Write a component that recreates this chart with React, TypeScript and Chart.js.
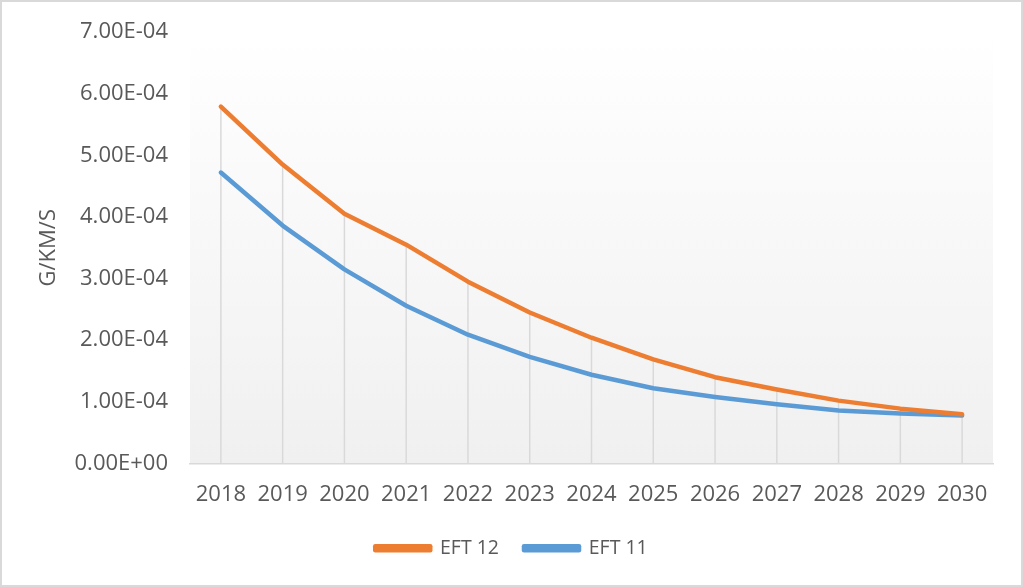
import React, { useEffect, useRef } from "react";
import { Chart, registerables } from "chart.js";

Chart.register(...registerables);

const years = ["2018", "2019", "2020", "2021", "2022", "2023", "2024", "2025", "2026", "2027", "2028", "2029", "2030"];
const eft12 = [5.79e-4, 4.85e-4, 4.05e-4, 3.55e-4, 2.95e-4, 2.45e-4, 2.04e-4, 1.69e-4, 1.40e-4, 1.20e-4, 1.02e-4, 0.89e-4, 0.80e-4];
const eft11 = [4.72e-4, 3.86e-4, 3.15e-4, 2.56e-4, 2.09e-4, 1.73e-4, 1.44e-4, 1.22e-4, 1.08e-4, 0.96e-4, 0.86e-4, 0.81e-4, 0.78e-4];
const yTitle = "G/KM/S";

const FONT = "'Open Sans', sans-serif";
const TEXT = "#595959";
const FS = 22;

function fmtExp(v: number): string {
  if (Math.abs(v) < 1e-12) return "0.00E+00";
  const s = v.toExponential(2).toUpperCase();
  const [m, e] = s.split("E");
  const sign = e[0] === "-" ? "-" : "+";
  const digits = e.replace(/[+-]/, "").padStart(2, "0");
  return `${m}E${sign}${digits}`;
}

const bgPlugin = {
  id: "bgGradient",
  beforeDraw(chart: any) {
    const { ctx, chartArea } = chart;
    if (!chartArea) return;
    const g = ctx.createLinearGradient(0, chartArea.top, 0, chartArea.bottom);
    g.addColorStop(0, "#ffffff");
    g.addColorStop(1, "#f0f0f0");
    ctx.save();
    ctx.fillStyle = g;
    ctx.fillRect(chartArea.left, chartArea.top, chartArea.right - chartArea.left, chartArea.bottom - chartArea.top);
    ctx.restore();
  },
};

const dropLinePlugin = {
  id: "dropLines",
  beforeDatasetsDraw(chart: any) {
    const { ctx } = chart;
    const xs = chart.scales.x;
    const ys = chart.scales.y;
    ctx.save();
    ctx.strokeStyle = "#d9d9d9";
    ctx.lineWidth = 1.5;
    years.forEach((_, i) => {
      const top = Math.max(eft12[i], eft11[i]);
      const x = xs.getPixelForValue(i);
      ctx.beginPath();
      ctx.moveTo(x, ys.getPixelForValue(top));
      ctx.lineTo(x, ys.getPixelForValue(0));
      ctx.stroke();
    });
    ctx.restore();
  },
};

export default function App() {
  const ref = useRef<HTMLCanvasElement | null>(null);
  useEffect(() => {
    if (!ref.current) return;
    const chart = new Chart(ref.current, {
      type: "line",
      data: {
        labels: years,
        datasets: [
          {
            label: "EFT 12",
            data: eft12,
            borderColor: "#ED7D31",
            backgroundColor: "#ED7D31",
            borderWidth: 4.5,
            pointRadius: 0,
            tension: 0,
            borderCapStyle: "round",
            borderJoinStyle: "round",
          },
          {
            label: "EFT 11",
            data: eft11,
            borderColor: "#5B9BD5",
            backgroundColor: "#5B9BD5",
            borderWidth: 4.5,
            pointRadius: 0,
            tension: 0,
            borderCapStyle: "round",
            borderJoinStyle: "round",
          },
        ],
      },
      options: {
        animation: false,
        responsive: false,
        devicePixelRatio: 1,
        layout: { padding: { left: 0, right: 0, top: 32, bottom: 19 } },
        plugins: {
          tooltip: { enabled: false },
          legend: {
            position: "bottom",
            labels: {
              boxWidth: 55,
              boxHeight: 4,
              padding: 25,
              color: TEXT,
              font: { family: FONT, size: 19.5 },
            },
          },
        },
        scales: {
          x: {
            offset: true,
            grid: { display: false },
            border: { display: true, color: "#d9d9d9", width: 1.5 },
            ticks: { color: TEXT, font: { family: FONT, size: FS }, padding: 10, maxRotation: 0, autoSkip: false },
            afterFit: (s: any) => { s.height = 50; },
          },
          y: {
            min: 0,
            max: 7e-4,
            grid: { display: false },
            border: { display: false },
            ticks: {
              stepSize: 1e-4,
              color: TEXT,
              font: { family: FONT, size: FS },
              padding: 14,
              callback: (v: any) => fmtExp(Number(v)),
            },
            title: {
              display: true,
              text: yTitle,
              color: TEXT,
              font: { family: FONT, size: FS },
              padding: { top: 36, bottom: 0 },
            },
            afterFit: (s: any) => { s.width = 190; },
          },
          yRight: {
            position: "right",
            display: true,
            min: 0,
            max: 7e-4,
            grid: { display: false },
            border: { display: false },
            ticks: { display: false },
            afterFit: (s: any) => { s.width = 30; },
          },
        },
      },
      plugins: [bgPlugin, dropLinePlugin],
    });
    return () => chart.destroy();
  }, []);

  return (
    <div style={{ position: "absolute", left: 0, top: 0, width: 1023, height: 587, background: "#fff" }}>
      <canvas ref={ref} width={1023} height={587} style={{ display: "block" }} />
      <div
        style={{
          position: "absolute",
          left: 0,
          top: 0,
          width: 1023,
          height: 587,
          boxSizing: "border-box",
          border: "2px solid #d9d9d9",
          pointerEvents: "none",
        }}
      />
    </div>
  );
}
